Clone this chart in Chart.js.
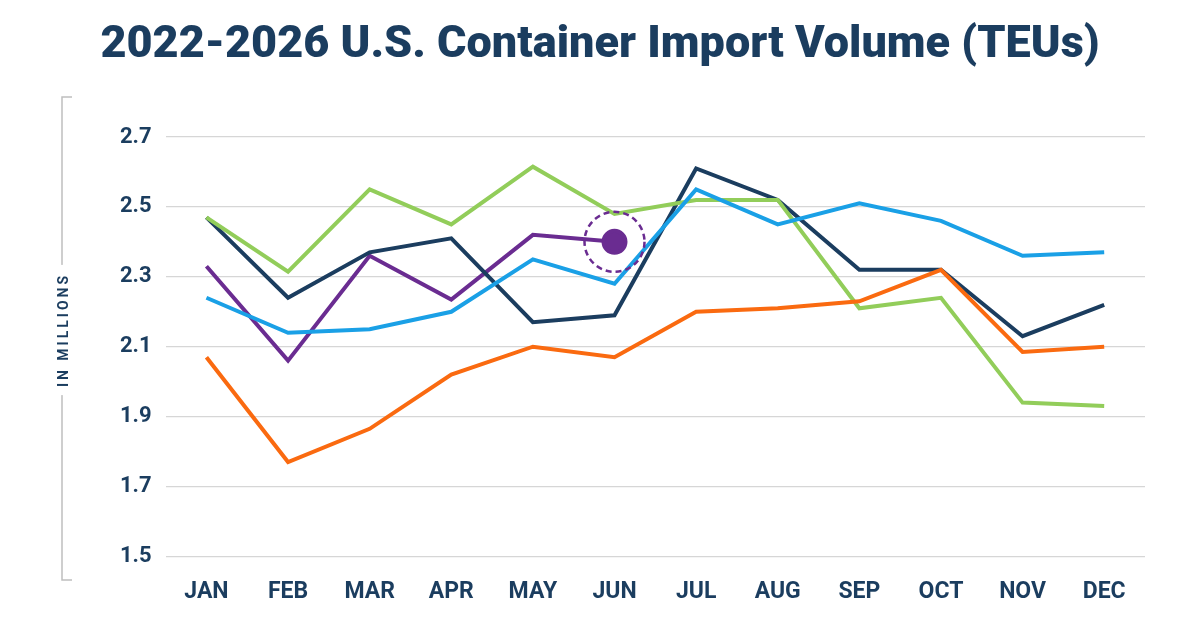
<!DOCTYPE html>
<html><head><meta charset="utf-8">
<script src="https://cdn.jsdelivr.net/npm/chart.js@4/dist/chart.umd.min.js"></script>
<style>
body{margin:0;background:#fff;width:1200px;height:630px;overflow:hidden;}
#wrap{position:relative;width:1200px;height:630px;}
</style></head>
<body><div id="wrap"><canvas id="chart" width="1200" height="630"></canvas></div>
<script>
const months = ["JAN","FEB","MAR","APR","MAY","JUN","JUL","AUG","SEP","OCT","NOV","DEC"];
const orangeLine = [2.07,1.77,1.865,2.02,2.10,2.07,2.20,2.21,2.23,2.32,2.085,2.10];
const blueLine = [2.24,2.14,2.15,2.20,2.35,2.28,2.55,2.45,2.51,2.46,2.36,2.37];
const greenLine = [2.47,2.315,2.55,2.45,2.615,2.48,2.52,2.52,2.21,2.24,1.94,1.93];
const navyLine = [2.47,2.24,2.37,2.41,2.17,2.19,2.61,2.52,2.32,2.32,2.13,2.22];
const purpleLine = [2.33,2.06,2.36,2.235,2.42,2.40,null,null,null,null,null,null];
const yTicks = [1.5,1.7,1.9,2.1,2.3,2.5,2.7];

const navy = "#1b3d5f";

// bracket line at left, rotated axis label, title, dashed ring round the latest point
const decor = {
  id: "decor",
  afterDraw(chart) {
    const ctx = chart.ctx;
    ctx.save();
    ctx.strokeStyle = "#bfbfbf"; ctx.lineWidth = 1.5;
    ctx.beginPath();
    ctx.moveTo(72, 97); ctx.lineTo(62, 97); ctx.lineTo(62, 580); ctx.lineTo(72, 580);
    ctx.stroke();
    ctx.translate(63, 330); ctx.rotate(-Math.PI / 2);
    ctx.font = "bold 14px Roboto";
    ctx.letterSpacing = "3px";
    const w = ctx.measureText("IN MILLIONS").width + 16;
    ctx.fillStyle = "#fff"; ctx.fillRect(-w / 2, -10, w, 20);
    ctx.fillStyle = navy; ctx.textAlign = "center"; ctx.textBaseline = "middle";
    ctx.fillText("IN MILLIONS", 0, 1);
    ctx.restore();

    ctx.save();
    ctx.font = "900 45px Roboto"; ctx.fillStyle = navy;
    ctx.textAlign = "center"; ctx.textBaseline = "middle";
    ctx.fillText("2022-2026 U.S. Container Import Volume (TEUs)", 600, 46);
    const pt = chart.getDatasetMeta(4).data[5];
    ctx.strokeStyle = "#6a2c91"; ctx.lineWidth = 2.5; ctx.setLineDash([6, 4]);
    ctx.beginPath(); ctx.arc(pt.x, pt.y, 30, 0, Math.PI * 2); ctx.stroke();
    ctx.restore();
  }
};

function series(data, color) {
  return { data: data, borderColor: color, backgroundColor: color, borderWidth: 4,
    pointRadius: 0, tension: 0, spanGaps: false };
}
const purple = series(purpleLine, "#6a2c91");
purple.pointRadius = purpleLine.map((v, i) => i === 5 ? 11 : 0);

new Chart(document.getElementById("chart"), {
  type: "line",
  plugins: [decor],
  data: {
    labels: months,
    datasets: [
      series(orangeLine, "#fa6a10"),
      series(blueLine, "#1aa0e6"),
      series(greenLine, "#92cd5a"),
      series(navyLine, "#1b3d5f"),
      purple
    ]
  },
  options: {
    responsive: false, animation: false,
    layout: { padding: { left: 106, right: 55, top: 137, bottom: 10 } },
    plugins: { legend: { display: false }, tooltip: { enabled: false } },
    scales: {
      x: {
        offset: true,
        grid: { display: false }, border: { display: false },
        ticks: { color: navy, font: { family: "Roboto", weight: "bold", size: 23 }, padding: 14 }
      },
      y: {
        min: 1.5, max: 2.7,
        afterBuildTicks: (s) => { s.ticks = yTicks.map(v => ({ value: v })); },
        grid: { color: "#d6d6d6", lineWidth: 1.2, drawTicks: false },
        border: { display: false },
        ticks: { color: navy, font: { family: "Roboto", weight: "bold", size: 22 }, padding: 14,
          callback: (v) => v.toFixed(1) }
      }
    }
  }
});
</script></body></html>
